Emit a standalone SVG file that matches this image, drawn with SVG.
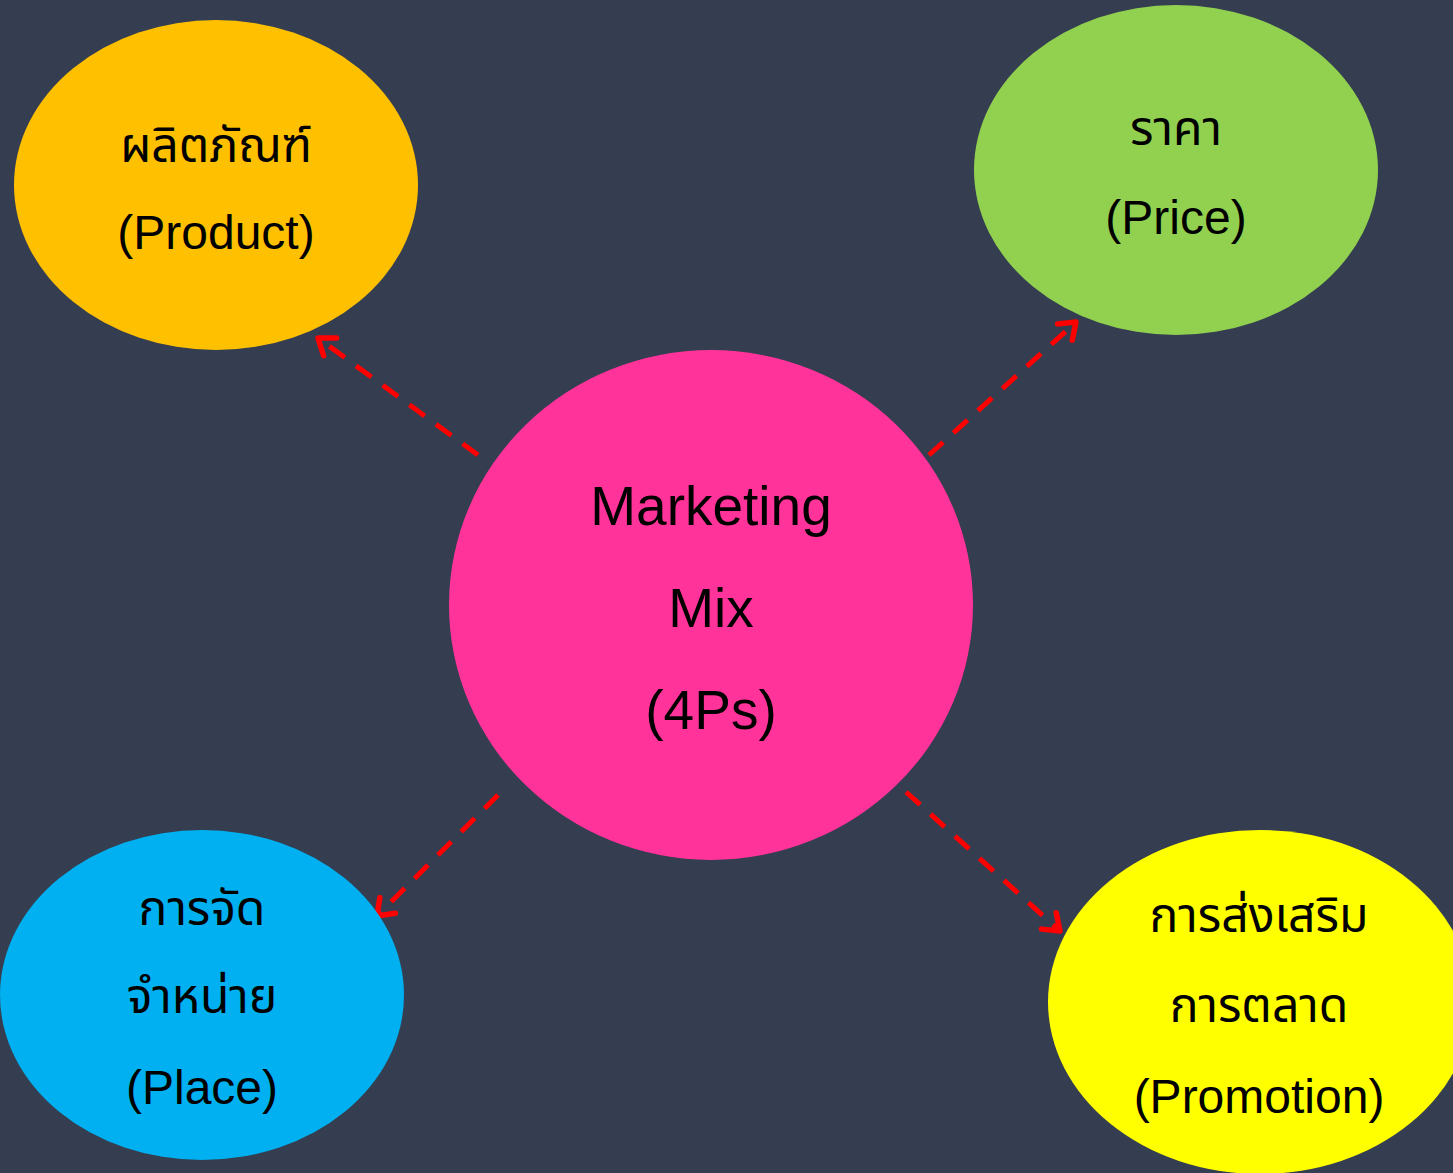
<svg xmlns="http://www.w3.org/2000/svg" width="1453" height="1173" viewBox="0 0 1453 1173">
<defs>
<style>
.lbl{font-family:"Liberation Sans","Noto Sans","Noto Sans Thai",Arial,sans-serif;fill:#000;text-anchor:middle;font-size:48px}
.big{font-size:55px}
.conn{stroke:#FF0000;stroke-width:5;fill:none;stroke-dasharray:19 14}
</style>
<marker id="arr" viewBox="-20 -14 24 28" refX="0" refY="0" markerWidth="24" markerHeight="28" markerUnits="userSpaceOnUse" orient="auto" overflow="visible">
<path d="M-15,-11 L0,0 L-15,11" fill="none" stroke="#FF0000" stroke-width="5.5" stroke-linecap="round" stroke-linejoin="round"/>
</marker>
</defs>
<rect x="0" y="0" width="1453" height="1173" fill="#343E50"/>
<g id="connectors">
<line class="conn" x1="478" y1="455" x2="318" y2="338" marker-end="url(#arr)"/>
<line class="conn" x1="929" y1="455" x2="1076" y2="322" marker-end="url(#arr)"/>
<line class="conn" x1="498" y1="795" x2="377" y2="916" marker-end="url(#arr)"/>
<line class="conn" x1="906" y1="792" x2="1060" y2="931" marker-end="url(#arr)"/>
</g>
<g id="center">
<ellipse cx="711" cy="605" rx="262" ry="255" fill="#FF3399"/>
<text class="lbl big" x="711" y="525">Marketing</text>
<text class="lbl big" x="711" y="627">Mix</text>
<text class="lbl big" x="711" y="729">(4Ps)</text>
</g>
<g id="product">
<ellipse cx="216" cy="185" rx="202" ry="165" fill="#FFC000"/>
<text class="lbl" x="216" y="162">ผลิตภัณฑ์</text>
<text class="lbl" x="216" y="249">(Product)</text>
</g>
<g id="price">
<ellipse cx="1176" cy="170" rx="202" ry="165" fill="#92D050"/>
<text class="lbl" x="1176" y="145">ราคา</text>
<text class="lbl" x="1176" y="234">(Price)</text>
</g>
<g id="place">
<ellipse cx="202" cy="995" rx="202" ry="165" fill="#00B0F0"/>
<text class="lbl" x="202" y="925">การจัด</text>
<text class="lbl" x="202" y="1013">จำหน่าย</text>
<text class="lbl" x="202" y="1104">(Place)</text>
</g>
<g id="promotion">
<ellipse cx="1260" cy="1002" rx="212" ry="172" fill="#FFFF00"/>
<text class="lbl" x="1259" y="932">การส่งเสริม</text>
<text class="lbl" x="1259" y="1022">การตลาด</text>
<text class="lbl" x="1259" y="1113">(Promotion)</text>
</g>
</svg>
